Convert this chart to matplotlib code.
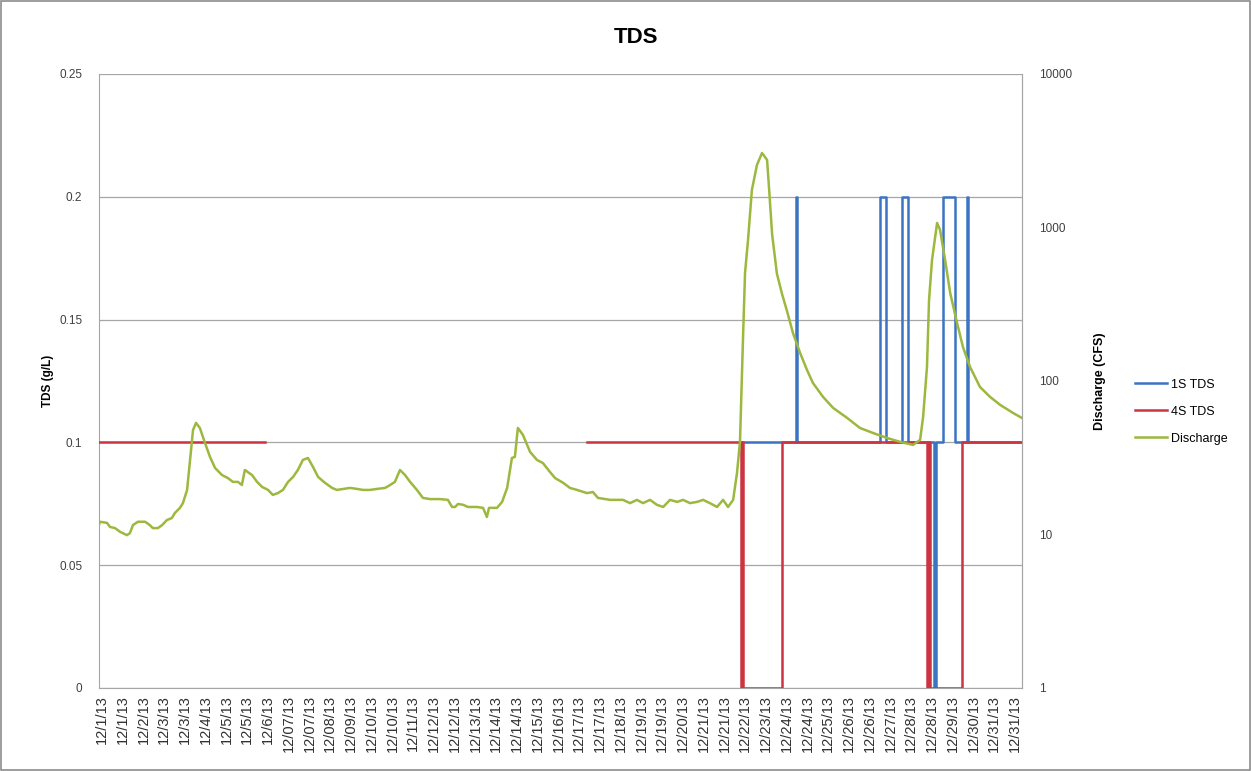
import numpy as np
import matplotlib
matplotlib.use("Agg")
import matplotlib.pyplot as plt
from matplotlib.patches import Rectangle

plt.rcParams['font.family'] = ['Liberation Sans Narrow', 'Liberation Sans', 'DejaVu Sans']

# x tick labels (category axis of the original sheet)
date_labels = ["12/1/13", "12/1/13", "12/2/13", "12/3/13", "12/3/13", "12/4/13", "12/5/13",
               "12/5/13", "12/6/13", "12/07/13", "12/07/13", "12/08/13", "12/09/13", "12/10/13",
               "12/10/13", "12/11/13", "12/12/13", "12/12/13", "12/13/13", "12/14/13", "12/14/13",
               "12/15/13", "12/16/13", "12/17/13", "12/17/13", "12/18/13", "12/19/13", "12/19/13",
               "12/20/13", "12/21/13", "12/21/13", "12/22/13", "12/23/13", "12/24/13", "12/24/13",
               "12/25/13", "12/26/13", "12/26/13", "12/27/13", "12/28/13", "12/28/13", "12/29/13",
               "12/30/13", "12/31/13", "12/31/13"]

# 1S TDS (g/L), step data, time in days since 12/1
s1_days = [21.56, 23.40, 23.45, 26.23, 26.44, 26.97, 27.17, 28.05, 28.10, 28.35, 28.75, 29.15, 29.20, 31.0]
s1_tds = [0.1, 0.2, 0.1, 0.2, 0.1, 0.2, 0.1, 0.0, 0.1, 0.2, 0.1, 0.2, 0.1, 0.1]

# 4S TDS (g/L), gap = no data
s4_days = [0.0, 5.58, 16.39, 21.56, 21.60, 21.64, 22.94, 27.82, 27.86, 27.90, 28.99, 31.0]
s4_tds = [0.1, np.nan, 0.1, 0.0, 0.1, 0.0, 0.1, 0.0, 0.1, 0.0, 0.1, 0.1]

# Discharge (CFS)
q_days = [0.0, 0.03, 0.27, 0.37, 0.54, 0.71, 0.94, 1.04, 1.14, 1.31, 1.55, 1.71, 1.81, 1.98,
          2.12, 2.28, 2.45, 2.55, 2.72, 2.82, 2.96, 3.06, 3.16, 3.26, 3.39, 3.56, 3.73, 3.90,
          4.13, 4.33, 4.50, 4.67, 4.80, 4.90, 5.14, 5.31, 5.48, 5.68, 5.84, 6.01, 6.18, 6.35,
          6.52, 6.68, 6.85, 7.02, 7.19, 7.36, 7.59, 7.83, 7.99, 8.20, 8.43, 8.67, 8.87, 9.10,
          9.34, 9.61, 9.78, 9.94, 10.11, 10.28, 10.45, 10.68, 10.88, 11.12, 11.45, 11.72, 11.86,
          11.96, 12.06, 12.23, 12.40, 12.70, 12.90, 13.03, 13.10, 13.37, 13.54, 13.71, 13.87,
          13.97, 14.07, 14.24, 14.48, 14.71, 14.91, 15.15, 15.32, 15.59, 15.82, 16.06, 16.39,
          16.59, 16.76, 17.17, 17.60, 17.84, 18.07, 18.27, 18.51, 18.74, 18.95, 19.18, 19.42,
          19.62, 19.85, 20.09, 20.29, 20.52, 20.76, 20.96, 21.13, 21.30, 21.43, 21.53, 21.63,
          21.70, 21.80, 21.93, 22.10, 22.27, 22.44, 22.51, 22.61, 22.77, 22.94, 23.11, 23.31,
          23.55, 23.78, 23.98, 24.32, 24.66, 25.13, 25.56, 26.00, 26.47, 26.91, 27.34, 27.58,
          27.68, 27.81, 27.88, 27.98, 28.15, 28.25, 28.42, 28.59, 28.82, 29.02, 29.26, 29.59,
          29.93, 30.27, 30.70, 31.0]
q_cfs = [11.5, 12.1, 11.9, 11.2, 11.0, 10.4, 9.9, 10.2, 11.5, 12.1, 12.1, 11.5, 11.0, 11.0,
         11.5, 12.4, 12.8, 13.8, 14.9, 16.0, 19.5, 30.6, 48.0, 53.3, 49.4, 39.5, 32.0, 27.1,
         24.4, 23.3, 22.0, 22.0, 21.0, 26.3, 24.4, 22.0, 20.4, 19.5, 18.1, 18.6, 19.5, 22.0,
         23.7, 26.3, 30.6, 31.5, 27.5, 23.7, 21.7, 20.1, 19.5, 19.8, 20.1, 19.8, 19.5, 19.5,
         19.8, 20.1, 21.0, 22.0, 26.3, 24.4, 22.0, 19.5, 17.3, 17.0, 17.0, 16.8, 15.1,
         15.1, 15.8, 15.6, 15.1, 15.1, 14.9, 13.0, 14.9, 14.9, 16.3, 20.1, 31.5,
         32.0, 49.4, 44.5, 34.5, 30.6, 29.2, 25.5, 23.3, 21.7, 20.1, 19.5, 18.6,
         18.9, 17.3, 16.8, 16.8, 16.0, 16.8, 16.0, 16.8, 15.6, 15.1, 16.8, 16.3,
         16.8, 16.0, 16.3, 16.8, 16.0, 15.1, 16.8, 15.1, 16.8, 25.2, 40.1, 185,
         506, 829, 1756, 2553, 3055, 2754, 1756, 900, 500, 370, 285, 205,
         152, 118, 97, 78.7, 66.7, 57.4, 49.4, 45.8, 42.5, 40.1, 38.3, 41.3,
         58.2, 123, 337, 614, 1070, 963, 614, 374, 239, 166, 123, 91.4,
         78.7, 69.8, 61.9, 57.4]

blue = '#3A74C2'
red = '#CD3340'
green = '#9CB83E'
grid_c = '#A6A6A6'

fig = plt.figure(figsize=(12.51, 7.71), dpi=100)
ax = fig.add_axes([0.0791, 0.1077, 0.7378, 0.7964])

ax.plot(s1_days, s1_tds, drawstyle='steps-post', color=blue, lw=1.8, label='1S TDS', zorder=3)
ax.plot(s4_days, s4_tds, drawstyle='steps-post', color=red, lw=1.8, label='4S TDS', zorder=4)

ax.set_xlim(0, 31)
ax.set_ylim(0, 0.25)
ax.set_yticks([0, 0.05, 0.1, 0.15, 0.2, 0.25])
ax.set_yticklabels(["0", "0.05", "0.1", "0.15", "0.2", "0.25"])
ax.yaxis.grid(True, color=grid_c, lw=0.9)
ax.set_axisbelow(True)
ax.tick_params(axis='y', length=0, labelsize=8.5, pad=12, colors='#404040')

ax.set_xticks(np.linspace(0.1, 30.77, len(date_labels)))
ax.set_xticklabels(date_labels, rotation=90)
ax.tick_params(axis='x', length=0, labelsize=10.5, pad=5, colors='#303030')

for side in ['left', 'bottom', 'right']:
    ax.spines[side].set_color(grid_c)
ax.spines['top'].set_visible(False)

ax.set_ylabel("TDS (g/L)", fontsize=8.5, fontweight='bold', labelpad=4)

ax2 = ax.twinx()
ax2.plot(q_days, q_cfs, color=green, lw=1.8, label='Discharge', zorder=5)
ax2.set_yscale('log')
ax2.set_ylim(1, 10000)
ax2.set_yticks([1, 10, 100, 1000, 10000])
ax2.set_yticklabels(["1", "10", "100", "1000", "10000"])
ax2.minorticks_off()
ax2.tick_params(axis='y', length=0, labelsize=8.5, pad=12, colors='#404040')
ax2.spines['top'].set_visible(False)
ax2.spines['right'].set_color(grid_c)
ax2.spines['left'].set_visible(False)
ax2.spines['bottom'].set_visible(False)
ax2.set_ylabel("Discharge (CFS)", fontsize=9, fontweight='bold', labelpad=16)

fig.suptitle("TDS", x=0.508, y=0.965, fontsize=16, fontweight='bold')

h1, l1 = ax.get_legend_handles_labels()
h2, l2 = ax2.get_legend_handles_labels()
fig.legend(h1 + h2, l1 + l2, loc='center left', bbox_to_anchor=(0.898, 0.466),
           frameon=False, fontsize=9, labelspacing=1.2, handlelength=2.6, handletextpad=0.3)

fig.patches.append(Rectangle((0.001, 0.001), 0.998, 0.998, transform=fig.transFigure,
                             fill=False, edgecolor='#8C8C8C', lw=1.2))

fig.savefig("out.png", dpi=100)
